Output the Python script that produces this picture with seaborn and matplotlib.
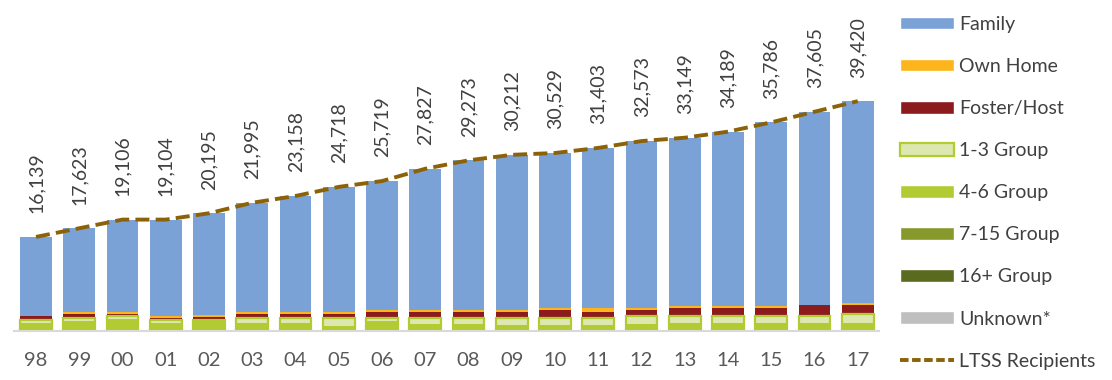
import numpy as np
import pandas as pd
import seaborn as sns
import matplotlib.pyplot as plt
from matplotlib.patches import Patch
from matplotlib.lines import Line2D

years = ['98', '99', '00', '01', '02', '03', '04', '05', '06', '07',
         '08', '09', '10', '11', '12', '13', '14', '15', '16', '17']
ltss_total = [16139, 17623, 19106, 19104, 20195, 21995, 23158, 24718, 25719, 27827,
              29273, 30212, 30529, 31403, 32573, 33149, 34189, 35786, 37605, 39420]

# small residential settings
unknown = [0] * 20
group_16 = [0] * 20
group_7_15 = [0] * 20
group_4_6 = [1330, 1670, 2080, 1330, 1850, 1380, 1380, 920, 1730, 1270,
             1270, 980, 980, 980, 1270, 1380, 1380, 1380, 1380, 1380]
group_1_3 = [520, 580, 520, 520, 120, 810, 810, 1270, 460, 980,
             980, 1270, 1270, 1270, 1330, 1210, 1210, 1210, 1210, 1560]
foster_host = [750, 690, 350, 400, 400, 690, 690, 690, 1040, 980,
               980, 980, 1380, 980, 1040, 1380, 1380, 1380, 1790, 1440]
own_home = [0, 290, 290, 290, 290, 350, 350, 350, 350, 350,
            350, 350, 350, 750, 350, 350, 350, 350, 60, 350]

df = pd.DataFrame({'year': years, 'total': ltss_total,
                   'Unknown*': unknown, '16+ Group': group_16, '7-15 Group': group_7_15,
                   '4-6 Group': group_4_6, '1-3 Group': group_1_3,
                   'Foster/Host': foster_host, 'Own Home': own_home})
df['Family'] = df['total'] - df[['Unknown*', '16+ Group', '7-15 Group', '4-6 Group',
                                 '1-3 Group', 'Foster/Host', 'Own Home']].sum(axis=1)

stack_order = ['Unknown*', '16+ Group', '7-15 Group', '4-6 Group', '1-3 Group',
               'Foster/Host', 'Own Home', 'Family']
colors = {'Family': '#7BA2D6', 'Own Home': '#FDB51B', 'Foster/Host': '#8C1B1E',
          '1-3 Group': '#DDE8B0', '4-6 Group': '#B2CB32', '7-15 Group': '#87992B',
          '16+ Group': '#5A6A1F', 'Unknown*': '#BFBFBF'}
line_color = '#8C6208'
green_edge = '#B2CB32'

cum = df[stack_order].cumsum(axis=1)

sns.set_style('white')
plt.rcParams['font.family'] = ['Lato', 'DejaVu Sans']

fig = plt.figure(figsize=(11.12, 3.8), dpi=100)
ax = fig.add_axes([14.4 / 1112, 49 / 380, 865 / 1112, 331 / 380])

# overlapping cumulative bars, drawn top segment first
for name in stack_order[::-1]:
    if cum[name].sum() == 0:
        continue
    kw = dict(edgecolor=green_edge, linewidth=1.6) if name == '1-3 Group' else dict(linewidth=0)
    sns.barplot(x=df['year'], y=cum[name], order=years, color=colors[name],
                saturation=1, width=0.73, errorbar=None, ax=ax, **kw)

sns.lineplot(x=df['year'], y=df['total'], sort=False, color=line_color, lw=2.8,
             linestyle=(0, (3.6, 1.6)), ax=ax)

for i, v in enumerate(ltss_total):
    ax.annotate(f'{v:,}', (i, v), xytext=(0, 17), textcoords='offset points',
                rotation=90, ha='center', va='bottom', fontsize=14, color='#404040')

ax.set_xlim(-0.5, 19.5)
ax.set_ylim(0, 56770)
ax.set_xlabel('')
ax.set_ylabel('')
ax.set_yticks([])
sns.despine(ax=ax, left=True, top=True, right=True)
ax.spines['bottom'].set_color('#D9D9D9')
ax.spines['bottom'].set_linewidth(1.5)
ax.set_xticks(np.arange(-0.5, 20, 1), minor=True)
ax.tick_params(axis='x', which='major', length=0, pad=15, labelsize=14.5, labelcolor='#595959')
ax.tick_params(axis='x', which='minor', length=5, width=1.5, color='#D9D9D9', direction='out')

handles = [Patch(facecolor=colors['Family']),
           Patch(facecolor=colors['Own Home']),
           Patch(facecolor=colors['Foster/Host']),
           Patch(facecolor=colors['1-3 Group'], edgecolor=green_edge, linewidth=1.6),
           Patch(facecolor=colors['4-6 Group']),
           Patch(facecolor=colors['7-15 Group']),
           Patch(facecolor=colors['16+ Group']),
           Patch(facecolor=colors['Unknown*']),
           Line2D([0], [0], color=line_color, lw=2.8, linestyle=(0, (2.2, 0.9)))]
labels = ['Family', 'Own Home', 'Foster/Host', '1-3 Group', '4-6 Group',
          '7-15 Group', '16+ Group', 'Unknown*', 'LTSS Recipients']
fig.legend(handles, labels, loc='upper left', bbox_to_anchor=(900 / 1112, 0.958),
           frameon=False, fontsize=14, labelcolor='#404040', handlelength=2.8,
           handleheight=0.62, handletextpad=0.25, labelspacing=1.29,
           borderpad=0, borderaxespad=0)

fig.savefig('out.png', dpi=100)
